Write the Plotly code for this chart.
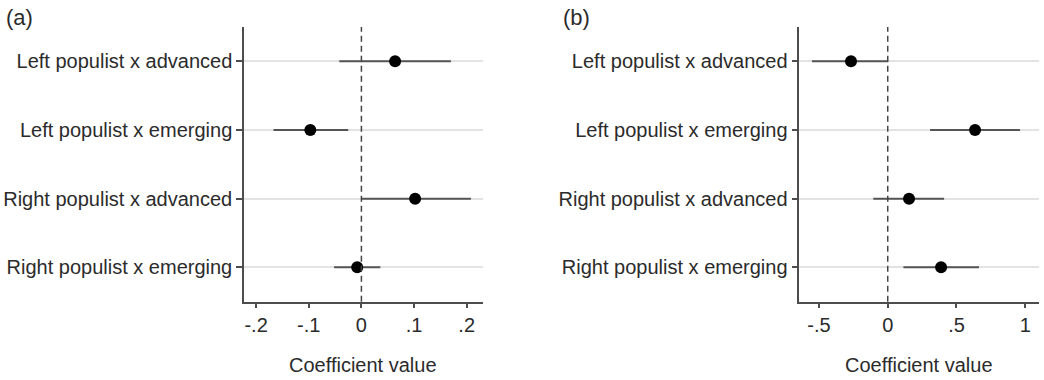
import plotly.graph_objects as go

categories = ["Left populist x advanced", "Left populist x emerging",
              "Right populist x advanced", "Right populist x emerging"]

# Panel (a)
a_coef = [0.064, -0.097, 0.102, -0.008]
a_low = [-0.042, -0.167, 0.001, -0.052]
a_high = [0.170, -0.025, 0.208, 0.036]
a_ticks = [-0.2, -0.1, 0, 0.1, 0.2]
a_ticktext = ["-.2", "-.1", "0", ".1", ".2"]

# Panel (b)
b_coef = [-0.267, 0.635, 0.155, 0.388]
b_low = [-0.551, 0.308, -0.105, 0.114]
b_high = [0.003, 0.962, 0.410, 0.664]
b_ticks = [-0.5, 0, 0.5, 1]
b_ticktext = ["-.5", "0", ".5", "1"]

W, H = 1044, 380
FONT = "Liberation Sans, Arial, sans-serif"
TXT = "#2b2b2b"
AX = "#4d4d4d"
FS = 20

fig = go.Figure()

def add_panel(coef, low, high, xa, ya):
    fig.add_trace(go.Scatter(
        x=coef, y=categories, mode="markers",
        marker=dict(color="black", size=12),
        error_x=dict(type="data", symmetric=False,
                     array=[h - c for h, c in zip(high, coef)],
                     arrayminus=[c - l for c, l in zip(coef, low)],
                     color="#555555", thickness=2, width=0),
        xaxis=xa, yaxis=ya, showlegend=False, cliponaxis=False))

add_panel(a_coef, a_low, a_high, "x", "y")
add_panel(b_coef, b_low, b_high, "x2", "y2")

ydom = [1 - 301.7 / H, 1 - 27 / H]
common_x = dict(showgrid=False, zeroline=False, showline=True, linecolor=AX,
                linewidth=1.5, ticks="outside", ticklen=5, tickwidth=1.5,
                tickcolor=AX, tickfont=dict(family=FONT, size=FS, color=TXT))
common_y = dict(showgrid=True, gridcolor="#e3e3e3", gridwidth=1.5, zeroline=False,
                showline=True, linecolor=AX, linewidth=1.5, ticks="outside",
                ticklen=6, tickwidth=1.5, tickcolor=AX, type="category",
                categoryorder="array", categoryarray=categories,
                range=[3.5, -0.5],
                tickfont=dict(family=FONT, size=FS, color=TXT))

fig.update_layout(
    width=W, height=H, margin=dict(l=0, r=0, t=0, b=0),
    paper_bgcolor="white", plot_bgcolor="white",
    xaxis=dict(domain=[244 / W, 482.5 / W], range=[-0.223, 0.230],
               tickvals=a_ticks, ticktext=a_ticktext, anchor="y", **common_x),
    yaxis=dict(domain=ydom, anchor="x", **common_y),
    xaxis2=dict(domain=[799.3 / W, 1039 / W], range=[-0.643, 1.10],
                tickvals=b_ticks, ticktext=b_ticktext, anchor="y2", **common_x),
    yaxis2=dict(domain=ydom, anchor="x2", **common_y),
)

for xr, yr in [("x", "y"), ("x2", "y2")]:
    fig.add_shape(type="line", xref=xr, yref=yr + " domain", x0=0, x1=0, y0=0, y1=1,
                  line=dict(color="#444444", width=1.5, dash="6px,4px"), layer="above")

annots = [
    dict(text="Coefficient value", x=(244 + 482.5) / 2 / W, y=1 - 365 / H, size=FS),
    dict(text="Coefficient value", x=(799.3 + 1039) / 2 / W, y=1 - 365 / H, size=FS),
    dict(text="(a)", x=19 / W, y=1 - 17 / H, size=22),
    dict(text="(b)", x=576 / W, y=1 - 17 / H, size=22),
]
for a in annots:
    sz = a.pop("size")
    fig.add_annotation(xref="paper", yref="paper", showarrow=False,
                       xanchor="center", yanchor="middle",
                       font=dict(family=FONT, size=sz, color=TXT), **a)

fig.write_html("out.html")
